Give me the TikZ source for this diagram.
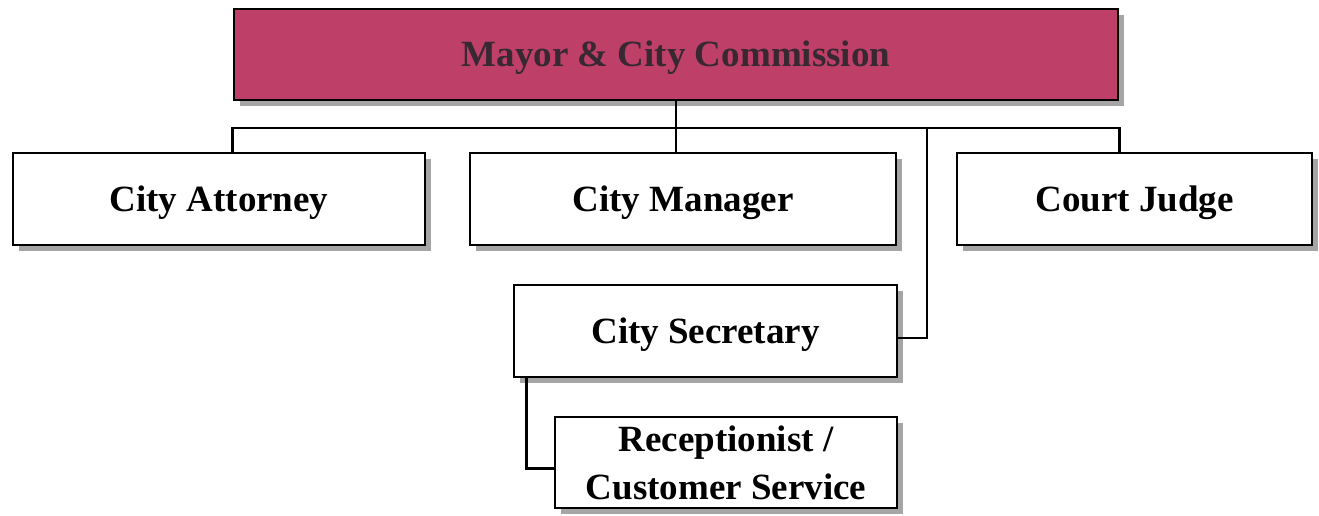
\documentclass[tikz,border=0pt]{standalone}
\usepackage{fontspec}
\setmainfont{Liberation Serif}
\usetikzlibrary{shadows}
\definecolor{mag}{RGB}{190,64,104}
\definecolor{shad}{RGB}{165,165,165}
\definecolor{toptext}{RGB}{55,40,50}
\begin{document}
\begin{tikzpicture}[x=1pt,y=-1pt,
  box/.style={draw=black, line width=2.8pt, fill=white, rectangle, align=center,
    font=\fontsize{37}{48}\selectfont\bfseries, inner sep=0pt,
    text height=24.5pt, text depth=0pt,
    drop shadow={shadow xshift=6pt, shadow yshift=-6pt, fill=shad, opacity=1}},
  conn/.style={draw=black, line width=2.6pt}]
\useasboundingbox (0,0) rectangle (1319,515);
\node[box, fill=mag, text=toptext, minimum width=884pt, minimum height=91pt, text depth=-3pt] (top) at (676,54.5) {Mayor \& City Commission};
\node[box, minimum width=412pt, minimum height=92pt, text depth=-2pt] (ca) at (219,199) {City Attorney};
\node[box, minimum width=426pt, minimum height=92pt, text depth=-2pt] (cm) at (683,199) {City Manager};
\node[box, minimum width=355pt, minimum height=92pt, text depth=-2pt] (cj) at (1134.5,199) {Court Judge};
\node[box, minimum width=383pt, minimum height=92pt] (cs) at (705.5,331) {City Secretary};
\node[box, minimum width=342pt, minimum height=91pt, text height=, text depth=] (rc) at (726,462.5) {Receptionist /\\Customer Service};
\coordinate (bus) at (676,128);
\coordinate (sj) at (927,128);
\draw[conn] (ca.north -| top.west) -- (bus -| top.west) -- (bus -| top.east) -- (cj.north -| top.east);
\draw[conn] (top.south) -- (top.south |- cm.north);
\draw[conn] (sj) |- ([yshift=-7pt]cs.east);
\draw[conn] ([xshift=14pt]cs.south west) |- ([yshift=-6pt]rc.west);
\end{tikzpicture}
\end{document}
